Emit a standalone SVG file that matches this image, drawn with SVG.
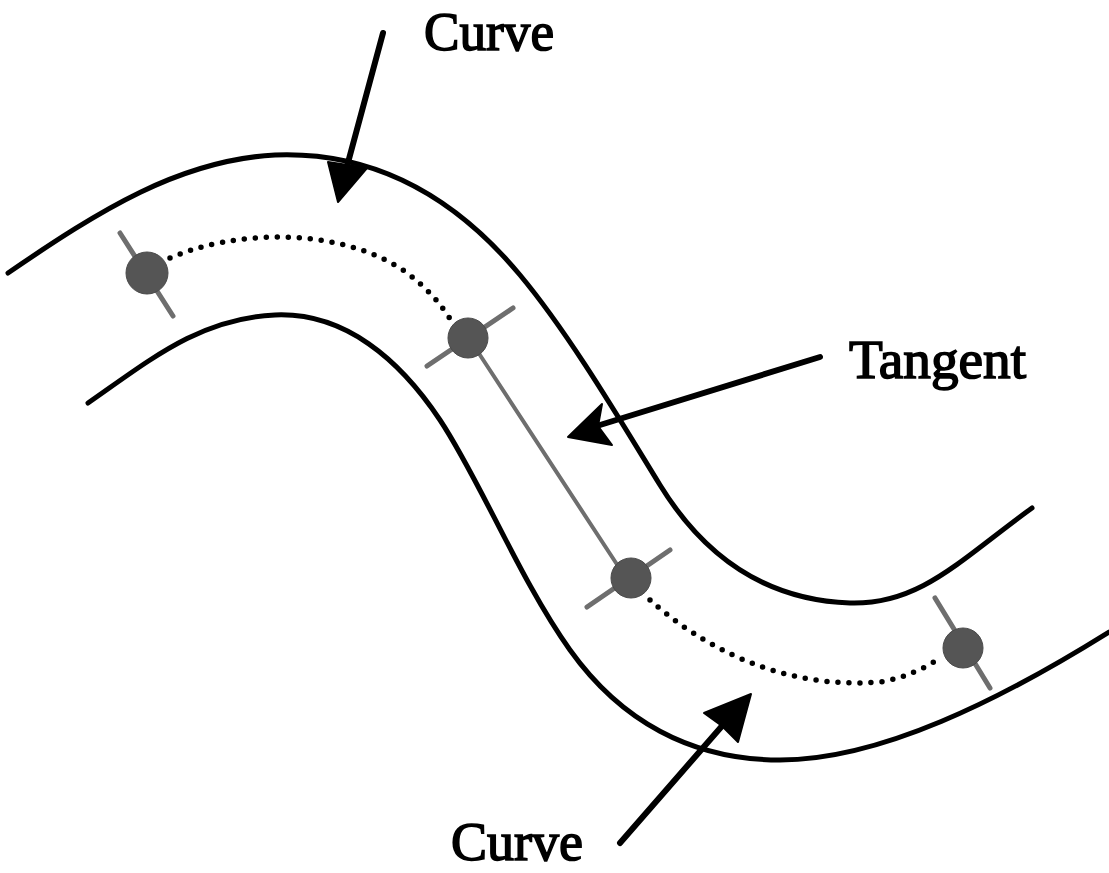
<svg xmlns="http://www.w3.org/2000/svg" width="1109" height="873" viewBox="0 0 1109 873">
<style>
.curve{fill:none;stroke:#000;stroke-width:5;stroke-linecap:round;stroke-linejoin:round}
.dot{fill:none;stroke:#000;stroke-width:5.5;stroke-linecap:round;stroke-dasharray:0 11}
.tick{stroke:#6e6e6e;stroke-width:5;stroke-linecap:round}
.node{fill:#555;stroke:#4a4a4a;stroke-width:1}
.arrow{stroke:#000;stroke-width:6;stroke-linecap:round;fill:none}
.head{fill:#000;stroke:#000;stroke-width:2;stroke-linejoin:round}
.lbl{font-family:"Liberation Serif","Times New Roman",serif;font-size:55px;fill:#000;stroke:#000;stroke-width:1.6}
</style>
<rect width="1109" height="873" fill="#fff"/>
<g id="curves">
<path class="curve" d="M8,273 C100,210 180,160 275,155 C375,151 455,197 520,275 C570,335 620,420 660,485 C700,550 760,600 850,603 C920,605 960,560 1032,508"/>
<path class="curve" d="M88,403 C150,360 200,318 275,315 C345,312 400,360 440,420 C480,480 520,580 570,650 C620,720 690,760 780,760 C880,760 1000,700 1109,632"/>
</g>
<g id="connectors">
<path class="dot" d="M170,258 C230,232 330,225 400,268 C425,285 442,305 452,322"/>
<path class="dot" d="M650,600 C700,645 780,690 880,682 C905,678 925,668 940,658"/>
<line x1="478" y1="352" x2="618" y2="566" stroke="#6e6e6e" stroke-width="4" stroke-linecap="round"/>
<line class="arrow" x1="383" y1="33" x2="346" y2="170"/>
<polygon class="head" points="338,202 328,162 367,168"/>
<line class="arrow" x1="820" y1="357" x2="600" y2="425"/>
<polygon class="head" points="568,437 602,404 598,426 612,445"/>
<line class="arrow" x1="620" y1="843" x2="722" y2="726"/>
<polygon class="head" points="751,694 738,742 722,726 704,713"/>
</g>
<g id="node1">
<line class="tick" x1="120" y1="233" x2="173" y2="316"/>
<circle class="node" cx="147" cy="273" r="21"/>
</g>
<g id="node2">
<line class="tick" x1="427" y1="366" x2="513" y2="308"/>
<circle class="node" cx="468" cy="338" r="20"/>
</g>
<g id="node3">
<line class="tick" x1="587" y1="607" x2="670" y2="550"/>
<circle class="node" cx="631" cy="578" r="20"/>
</g>
<g id="node4">
<line class="tick" x1="935" y1="598" x2="990" y2="688"/>
<circle class="node" cx="963" cy="648" r="20"/>
</g>
<g id="labels">
<text class="lbl" x="424" y="50" textLength="130" lengthAdjust="spacingAndGlyphs">Curve</text>
<text class="lbl" x="849" y="378" textLength="177" lengthAdjust="spacingAndGlyphs">Tangent</text>
<text class="lbl" x="451" y="860" textLength="132" lengthAdjust="spacingAndGlyphs">Curve</text>
</g>
</svg>
